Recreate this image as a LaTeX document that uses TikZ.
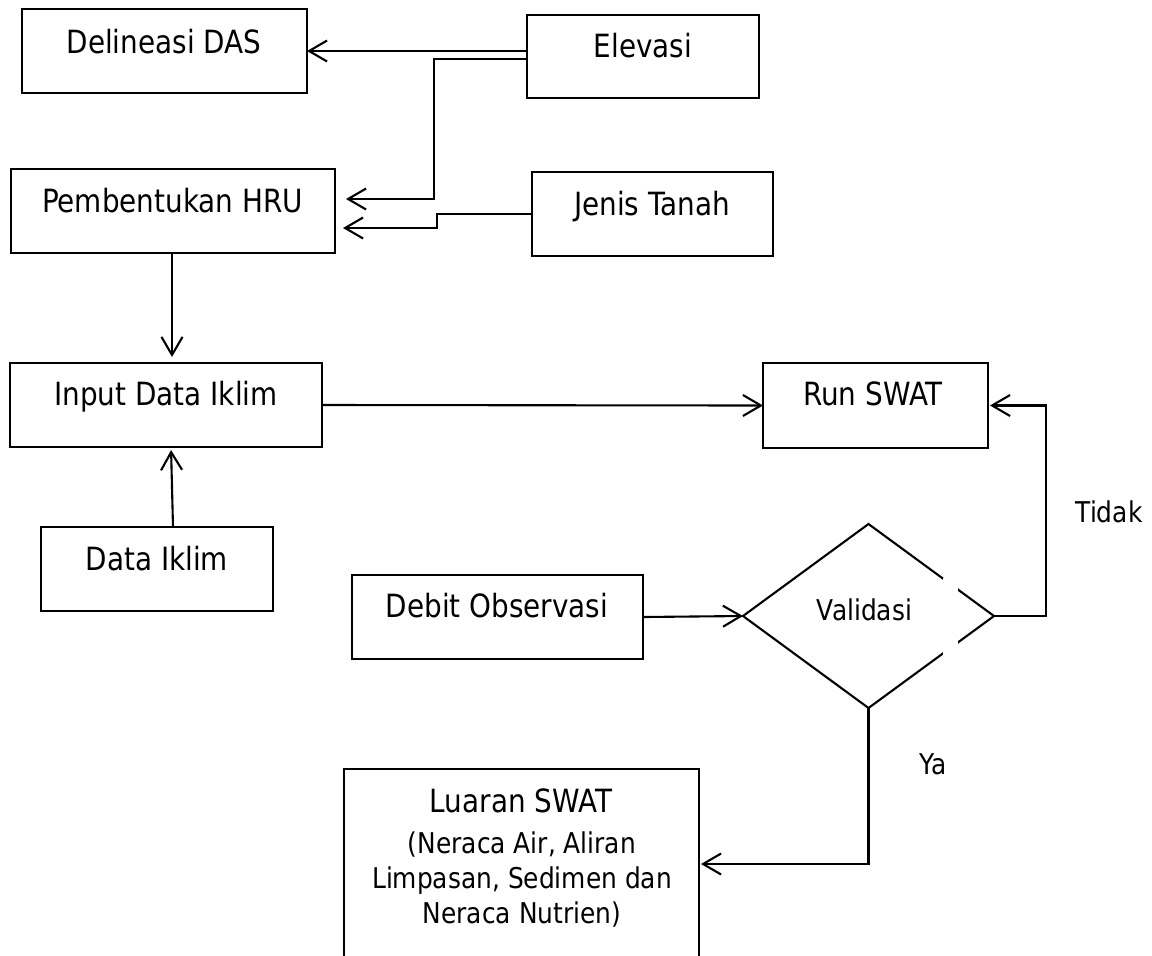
\documentclass[tikz,border=0pt]{standalone}
\usepackage{fontspec}
\setmainfont[FakeStretch=0.87]{DejaVu Sans}
\usetikzlibrary{arrows.meta,shapes.geometric}
\newcommand{\bigtxt}{\fontsize{16}{19}\selectfont}
\newcommand{\smalltxt}{\fontsize{14.3}{17}\selectfont}
\begin{document}
\begin{tikzpicture}[x=0.5pt,y=-0.5pt,
  box/.style={draw,line width=0.75pt,inner sep=0pt,outer sep=0pt},
  txt/.style={anchor=base,inner sep=0pt,font=\bigtxt},
  stxt/.style={anchor=base,inner sep=0pt,font=\smalltxt},
  conn/.style={line width=1.05pt,-{Straight Barb[length=9pt,width=10.5pt,line width=1.05pt]}},
  plain/.style={line width=1pt}]
\clip (0,0) rectangle (1152,955);
\fill[white] (0,0) rectangle (1152,955);

% boxes
\node[box,minimum width=142.5pt,minimum height=42pt] (das) at (164.5,51) {};
\node[box,minimum width=116pt,minimum height=41.5pt] (elev) at (643,56.5) {};
\node[box,minimum width=162pt,minimum height=42pt] (hru) at (173,211) {};
\node[box,minimum width=120.5pt,minimum height=42pt] (tanah) at (652.5,214) {};
\node[box,minimum width=156pt,minimum height=42pt] (input) at (166,405) {};
\node[box,minimum width=112.5pt,minimum height=42.5pt] (run) at (875.5,405.5) {};
\node[box,minimum width=116pt,minimum height=42pt] (data) at (157,569) {};
\node[box,minimum width=145.5pt,minimum height=42pt] (debit) at (497.5,617) {};
\node[box,minimum width=177.5pt,minimum height=95pt] (luaran) at (521.5,864) {};
\node[draw,diamond,line width=1.05pt,inner sep=0pt,outer sep=0pt,
      minimum width=125.5pt,minimum height=92pt] (dia) at (868.5,616) {};
\fill[white] (943,578) rectangle (958,656);

% texts
\node[txt] at (164,53) {Delineasi DAS};
\node[txt] at (643,57) {Elevasi};
\node[txt] at (172.5,212) {Pembentukan HRU};
\node[txt] at (652,215) {Jenis Tanah};
\node[txt] at (166,405) {Input Data Iklim};
\node[txt] at (873,405) {Run SWAT};
\node[txt] at (157,570) {Data Iklim};
\node[txt] at (497,617) {Debit Observasi};
\node[stxt] at (864.5,620) {Validasi};
\node[txt] at (521,812) {Luaran SWAT};
\node[stxt] at (522,853) {(Neraca Air, Aliran};
\node[stxt] at (522,888) {Limpasan, Sedimen dan};
\node[stxt] at (522,923) {Neraca Nutrien)};
\node[stxt] at (1109,522) {Tidak};
\node[stxt] at (933,774) {Ya};

% connectors
\draw[conn] (elev.west |- das.east) -- (das.east);
\draw[conn] ([yshift=-1.25pt]elev.west) -- ++(-93,0) |- ([xshift=5.5pt,yshift=6pt]hru.east);
\draw[conn] (tanah.west) -- ++(-95,0) |- ([xshift=4pt,yshift=-8.5pt]hru.east);
\draw[conn,shorten >=3pt] ([xshift=-0.5pt]hru.south) -- ([xshift=-0.5pt]hru.south |- input.north);
\draw[conn,shorten >=1.5pt] ([xshift=8pt]data.north) -- ([xshift=7pt]data.north |- input.south);
\draw[conn] (input.east) -- (run.west);
\draw[conn] (debit.east) -- (dia.west);
\draw[conn] (dia.east) -- ++(52,0) |- ([xshift=1pt]run.east);
\draw[conn] (dia.south) |- ([xshift=1pt]luaran.east);
\end{tikzpicture}
\end{document}
